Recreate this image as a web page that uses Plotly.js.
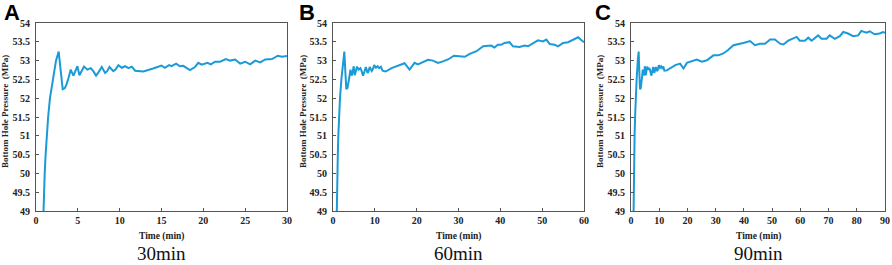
<!DOCTYPE html>
<html lang="en">
<head>
  <meta charset="UTF-8">
  <title>Bottom Hole Pressure</title>
  <script src="https://cdn.plot.ly/plotly-3.0.1.min.js"></script>
  <style>
    body { margin: 0; background: #fff; }
    #chart { width: 892px; height: 265px; }
  </style>
</head>
<body>
  <div id="chart"></div>
  <script>
    // start-up part, same in all three runs
    const earlyTime = [0.8, 0.87, 1.04, 1.15, 1.27, 1.45, 1.67, 2.0, 2.39, 2.71, 2.95, 3.19, 3.45, 3.67, 3.9, 4.15, 4.47, 4.7, 4.95,
      5.19, 5.45, 5.74, 6.14, 6.54, 6.85, 7.18, 7.5, 7.86, 8.26, 8.5, 8.78, 9.25, 9.5, 9.85, 10.25, 10.65, 11.05, 11.45, 11.85];
    const earlyPress = [48.3, 49.0, 50.0, 50.5, 51.0, 51.5, 52.0, 52.5, 53.0, 53.24, 52.7, 52.24, 52.27, 52.38, 52.55, 52.76, 52.6, 52.7, 52.85,
      52.61, 52.72, 52.84, 52.76, 52.8, 52.72, 52.6, 52.7, 52.83, 52.67, 52.72, 52.83, 52.72, 52.76, 52.88, 52.81, 52.85, 52.8, 52.84, 52.73];

    // 30 min run
    const timeA = [12.84, 14.0, 15.0, 15.4, 15.9, 16.2, 16.75, 17.2, 17.6, 18.4, 19.0, 19.4, 19.8, 20.5, 20.9, 21.4, 22.0, 22.7,
      23.2, 23.8, 24.4, 25.0, 25.6, 26.2, 26.8, 27.4, 28.2, 28.9, 29.4, 30];
    const pressA = [52.71, 52.79, 52.87, 52.81, 52.88, 52.85, 52.92, 52.85, 52.86, 52.75, 52.83, 52.94, 52.89, 52.94, 52.9, 52.97, 52.97, 53.04,
      53.0, 53.03, 52.92, 52.97, 52.9, 53.0, 52.95, 53.03, 53.04, 53.13, 53.1, 53.12];

    // 60 min run
    const timeB = [12.6, 14, 15, 16, 17.1, 18.3, 19.5, 20.3, 21.1, 22.7, 23.9, 25.1, 26.3, 27.5, 28.9, 30.3, 31.5, 32.7, 34.3, 35.9,
      37.1, 37.8, 38.6, 39.4, 40.2, 41.0, 42.2, 43.0, 44.6, 45.8, 46.6, 47.8, 49.0, 50.2, 51.0, 51.8, 53.0, 53.8, 55.0, 56.2, 57.4, 58.6, 59.2, 60];
    const pressB = [52.71, 52.8, 52.84, 52.89, 52.93, 52.76, 52.94, 52.9, 52.94, 53.02, 53.0, 52.94, 52.98, 53.03, 53.13, 53.11, 53.1, 53.18, 53.25, 53.38,
      53.38, 53.4, 53.35, 53.42, 53.42, 53.47, 53.49, 53.38, 53.36, 53.4, 53.38, 53.45, 53.54, 53.51, 53.56, 53.44, 53.42, 53.38, 53.47, 53.49, 53.56, 53.62, 53.56, 53.49];

    // 90 min run
    const timeC = [12.7, 14.2, 15.7, 17.4, 18.6, 19.8, 22.1, 23.3, 25.1, 26.9, 29.2, 31.0, 32.7, 34.4, 36.3, 38.0, 39.8, 42.2, 43.9,
      45.7, 47.5, 49.3, 51.0, 52.8, 54.0, 55.7, 58.7, 59.8, 61.6, 62.8, 64.0, 66.3, 67.5, 69.3, 70.4, 72.2, 74.0, 75.2, 76.9,
      78.7, 80.5, 81.6, 83.4, 84.6, 86.3, 88.1, 89.3, 90];
    const pressC = [52.74, 52.82, 52.88, 52.92, 52.79, 52.94, 53.01, 53.03, 52.97, 53.01, 53.14, 53.14, 53.19, 53.28, 53.41, 53.43, 53.47, 53.52, 53.41,
      53.45, 53.45, 53.56, 53.56, 53.45, 53.43, 53.53, 53.63, 53.53, 53.53, 53.61, 53.53, 53.67, 53.58, 53.58, 53.67, 53.58, 53.65, 53.76, 53.72,
      53.65, 53.67, 53.79, 53.74, 53.78, 53.7, 53.72, 53.76, 53.74];

    const panelLetters = ['A', 'B', 'C'];
    const runLabels = ['30min', '60min', '90min'];
    const xMax = [30, 60, 90];
    const xStep = [5, 10, 10];

    const lineColor = '#1b9ad8';
    const serif = 'Liberation Serif, Times New Roman, serif';

    const series = [
      [timeA, pressA],
      [timeB, pressB],
      [timeC, pressC]
    ];

    // pixel geometry of the three plot areas
    const plotLeft = [36, 333, 631];
    const plotRight = [287, 584, 885];
    const W = 892, H = 265;
    const yDom = [1 - 211 / H, 1 - 23 / H];

    let traces = [];
    let layout = {
      width: W, height: H,
      margin: { l: 0, r: 0, t: 0, b: 0 },
      paper_bgcolor: '#fff',
      plot_bgcolor: '#fff',
      showlegend: false,
      annotations: []
    };

    series.forEach((s, i) => {
      const n = i === 0 ? '' : String(i + 1);
      traces.push({
        x: earlyTime.concat(s[0]),
        y: earlyPress.concat(s[1]),
        xaxis: 'x' + n,
        yaxis: 'y' + n,
        mode: 'lines',
        line: { color: lineColor, width: 2 },
        hoverinfo: 'skip'
      });

      const tickFont = { family: serif, size: 10, color: '#222', weight: 'bold' };
      layout['xaxis' + n] = {
        domain: [plotLeft[i] / W, plotRight[i] / W],
        range: [0, xMax[i]],
        dtick: xStep[i],
        anchor: 'y' + n,
        showgrid: false, zeroline: false,
        showline: true, mirror: true, linecolor: '#555', linewidth: 1,
        ticks: 'inside', ticklen: 3, tickcolor: '#555',
        tickfont: tickFont
      };
      layout['yaxis' + n] = {
        domain: yDom,
        range: [49, 54],
        dtick: 0.5,
        anchor: 'x' + n,
        showgrid: false, zeroline: false,
        showline: true, mirror: true, linecolor: '#555', linewidth: 1,
        ticks: 'inside', ticklen: 3, tickcolor: '#555',
        ticklabelstandoff: 3,
        tickfont: tickFont
      };

      const midX = (plotLeft[i] + plotRight[i]) / 2 / W;
      const titleX = [5, 303, 600][i] / W;
      layout.annotations.push(
        { text: panelLetters[i], xref: 'paper', yref: 'paper', x: [2, 297, 593][i] / W, y: 1 + 2 / H,
          xanchor: 'left', yanchor: 'top', showarrow: false,
          font: { family: 'Liberation Sans, Arial, sans-serif', size: 22, color: '#000', weight: 'bold' } },
        { text: 'Bottom Hole Pressure  (MPa)', xref: 'paper', yref: 'paper', x: titleX, y: 1 - 112 / H,
          textangle: -90, showarrow: false, xanchor: 'center', yanchor: 'middle',
          font: { family: serif, size: 9, color: '#222', weight: 'bold' } },
        { text: 'Time (min)', xref: 'paper', yref: 'paper', x: midX, y: 1 - 236 / H,
          showarrow: false, xanchor: 'center', yanchor: 'middle',
          font: { family: serif, size: 9.5, color: '#222', weight: 'bold' } },
        { text: runLabels[i], xref: 'paper', yref: 'paper', x: midX, y: 1 - 253 / H,
          showarrow: false, xanchor: 'center', yanchor: 'middle',
          font: { family: serif, size: 19, color: '#111' } }
      );
    });

    Plotly.newPlot('chart', traces, layout, { displayModeBar: false, staticPlot: true });
  </script>
</body>
</html>
